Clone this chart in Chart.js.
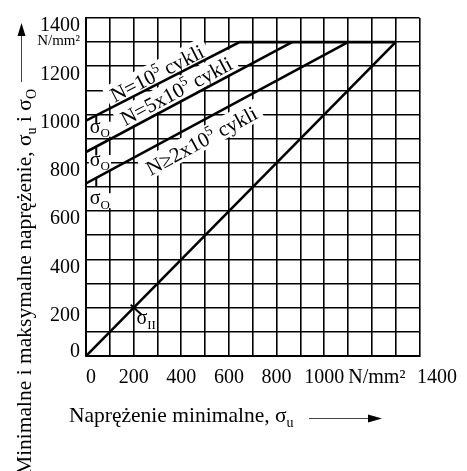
<!DOCTYPE html>
<html><head><meta charset="utf-8">
<script src="https://cdn.jsdelivr.net/npm/chart.js@4.4.0/dist/chart.umd.min.js"></script>
<style>html,body{margin:0;padding:0;background:#fff}#wrap{width:467px;height:471px;position:relative}</style>
</head><body><div id="wrap"><canvas id="c"></canvas></div>
<script>
// ---- data ----
const diagX = [0, 1300];          // σII line
const diagY = [0, 1300];
const n1X = [0, 645, 1300];       // N=10^5 cykli
const n1Y = [975, 1300, 1300];
const n2X = [0, 865];             // N=5x10^5 cykli
const n2Y = [845, 1300];
const n3X = [0, 1100];            // N≥2x10^5 cykli
const n3Y = [715, 1300];

const xLabelValues = [0, 200, 400, 600, 800, 1000, 1200, 1400];
const xLabelTexts  = ["  0", "200", "400", "600", "800", "1000", "  N/mm²", "       1400"];
const yLabelValues = [0, 200, 400, 600, 800, 1000, 1200, 1300, 1400];
const yLabelTexts  = [["0",""], "200", "400", "600", "800", "1000", "1200", ["N/mm²",""], "1400"];

const yTitleParts = [["Minimalne i maksymalne naprężenie, σ",0],["u",1],[" i σ",0],["O",1]];
const xTitleParts = [["Naprężenie minimalne, σ",0],["u",1]];
const lineLabels = [
  {parts:[["N=10",0],["5",2],[" cykli",0]], x:298, y:1171, line:[n1X,n1Y]},
  {parts:[["N=5x10",0],["5",2],[" cykli",0]], x:379, y:1097, line:[n2X,n2Y]},
  {parts:[["N≥2x10",0],["5",2],[" cykli",0]], x:485, y:892, line:[n3X,n3Y]}
];
const sigmaLabels = [
  {parts:[["σ",0],["O",1]], x:16, y:925},
  {parts:[["σ",0],["O",1]], x:16, y:787},
  {parts:[["σ",0],["O",1]], x:16, y:629},
  {parts:[["σ",0],["II",1]], x:212, y:131}
];
// short marker ticks (data anchor on the line)
const markerX = [43, 43, 43];
const markerY = [997, 868, 738];

const FONT = "'Liberation Serif', 'Times New Roman', serif";

function pts(xs, ys){ return xs.map((x,i)=>({x:x, y:ys[i]})); }

function partFont(kind, base){
  return (kind===0 ? base : Math.round(base*0.66)) + "px " + FONT;
}
function measureParts(ctx, parts, base){
  let w = 0;
  for (const [t,k] of parts){ ctx.font = partFont(k, base); w += ctx.measureText(t).width; }
  return w;
}
function drawParts(ctx, parts, x, y, base){
  let cx = x;
  for (const [t,k] of parts){
    ctx.font = partFont(k, base);
    const dy = k===1 ? base*0.22 : (k===2 ? -base*0.38 : 0);
    ctx.fillText(t, cx, y+dy);
    cx += ctx.measureText(t).width;
  }
}

const annot = {
  id: 'annot',
  beforeDatasetsDraw(chart){
    const ctx = chart.ctx, xs = chart.scales.x, ys = chart.scales.y;
    ctx.save();
    ctx.fillStyle = '#fff';
    for (const L of lineLabels){
      const [lx, ly] = L.line;
      const ang = Math.atan2(ys.getPixelForValue(ly[1]) - ys.getPixelForValue(ly[0]),
                             xs.getPixelForValue(lx[1]) - xs.getPixelForValue(lx[0]));
      const w = measureParts(ctx, L.parts, 21);
      ctx.save();
      ctx.translate(xs.getPixelForValue(L.x), ys.getPixelForValue(L.y));
      ctx.rotate(ang);
      ctx.fillRect(-w/2-5, -12, w+10, 22);
      ctx.restore();
    }
    for (const S of sigmaLabels){
      const w = measureParts(ctx, S.parts, 20);
      const px = xs.getPixelForValue(S.x), py = ys.getPixelForValue(S.y);
      ctx.fillRect(px-1, py-11, w+2, 15);
    }
    ctx.restore();
  },
  afterDatasetsDraw(chart){
    const ctx = chart.ctx, xs = chart.scales.x, ys = chart.scales.y;
    ctx.save();
    ctx.fillStyle = '#000';
    ctx.textBaseline = 'alphabetic';
    for (const L of lineLabels){
      const [lx, ly] = L.line;
      const ang = Math.atan2(ys.getPixelForValue(ly[1]) - ys.getPixelForValue(ly[0]),
                             xs.getPixelForValue(lx[1]) - xs.getPixelForValue(lx[0]));
      const w = measureParts(ctx, L.parts, 21);
      ctx.save();
      ctx.translate(xs.getPixelForValue(L.x), ys.getPixelForValue(L.y));
      ctx.rotate(ang);
      drawParts(ctx, L.parts, -w/2, 7, 21);
      ctx.restore();
    }
    for (const S of sigmaLabels){
      drawParts(ctx, S.parts, xs.getPixelForValue(S.x), ys.getPixelForValue(S.y), 20);
    }
    // markers
    ctx.strokeStyle = '#000'; ctx.lineWidth = 2;
    for (let i=0;i<markerX.length;i++){
      const px = xs.getPixelForValue(markerX[i]), py = ys.getPixelForValue(markerY[i]);
      ctx.beginPath(); ctx.moveTo(px, py); ctx.lineTo(px, py+9); ctx.stroke();
    }
    // σII marker across diagonal
    const dx = xs.getPixelForValue(200), dy = ys.getPixelForValue(200);
    ctx.beginPath(); ctx.moveTo(dx-3, dy-3); ctx.lineTo(dx+8, dy+7); ctx.stroke();
    ctx.restore();
  },
  afterDraw(chart){
    const ctx = chart.ctx;
    ctx.save();
    ctx.fillStyle = '#000';
    ctx.textBaseline = 'alphabetic';
    // y title (rotated)
    const wy = measureParts(ctx, yTitleParts, 21.5);
    ctx.save();
    ctx.translate(31, 89 + wy);
    ctx.rotate(-Math.PI/2);
    drawParts(ctx, yTitleParts, 0, 0, 21.5);
    ctx.restore();
    // y arrow
    ctx.strokeStyle = '#444'; ctx.lineWidth = 1;
    ctx.beginPath(); ctx.moveTo(21.5, 82); ctx.lineTo(21.5, 33); ctx.stroke();
    ctx.fillStyle = '#000';
    ctx.beginPath(); ctx.moveTo(21.5, 23); ctx.lineTo(17.5, 36); ctx.lineTo(25.5, 36); ctx.closePath(); ctx.fill();
    // x title
    drawParts(ctx, xTitleParts, 69, 422, 21.5);
    ctx.beginPath(); ctx.moveTo(309, 418.5); ctx.lineTo(370, 418.5); ctx.stroke();
    ctx.beginPath(); ctx.moveTo(382, 418.5); ctx.lineTo(368, 414.5); ctx.lineTo(368, 422.5); ctx.closePath(); ctx.fill();
    ctx.restore();
  }
};

const lineStyle = {borderColor:'#000', borderWidth:2.6, pointRadius:0, fill:false, tension:0};

new Chart(document.getElementById('c'), {
  type: 'line',
  data: {
    datasets: [
      Object.assign({label:'σII', data: pts(diagX, diagY)}, lineStyle),
      Object.assign({label:'N=10^5 cykli', data: pts(n1X, n1Y)}, lineStyle),
      Object.assign({label:'N=5x10^5 cykli', data: pts(n2X, n2Y)}, lineStyle),
      Object.assign({label:'N≥2x10^5 cykli', data: pts(n3X, n3Y)}, lineStyle)
    ]
  },
  options: {
    responsive: true, maintainAspectRatio: false, animation: false,
    devicePixelRatio: 1,
    layout: {padding: {left:0, right:38, top:15, bottom:0}},
    plugins: {legend:{display:false}, tooltip:{enabled:false}, title:{display:false}},
    scales: {
      x: {
        type: 'linear', min: 0, max: 1400,
        afterFit(s){ s.height = 115; },
        grid: {color:'#000', lineWidth:1.6, drawTicks:false},
        border: {display:true, color:'#000', width:2},
        ticks: {
          stepSize: 100, autoSkip: false, maxRotation: 0, padding: 10, color:'#000',
          font: {family: FONT, size: 20},
          callback(v){ const i = xLabelValues.indexOf(v); return i>=0 ? xLabelTexts[i] : ''; }
        }
      },
      y: {
        type: 'linear', min: 0, max: 1400,
        afterFit(s){ s.width = 86; },
        grid: {color:'#000', lineWidth:1.6, drawTicks:false},
        border: {display:true, color:'#000', width:2},
        ticks: {
          stepSize: 100, autoSkip: false, padding: 6, labelOffset: 8, color:'#000',
          font(ctx){ return {family: FONT, size: (ctx.tick && ctx.tick.value===1300) ? 15 : 20}; },
          callback(v){ const i = yLabelValues.indexOf(v); return i>=0 ? yLabelTexts[i] : ''; }
        }
      }
    }
  },
  plugins: [annot]
});
</script>
</body></html>
